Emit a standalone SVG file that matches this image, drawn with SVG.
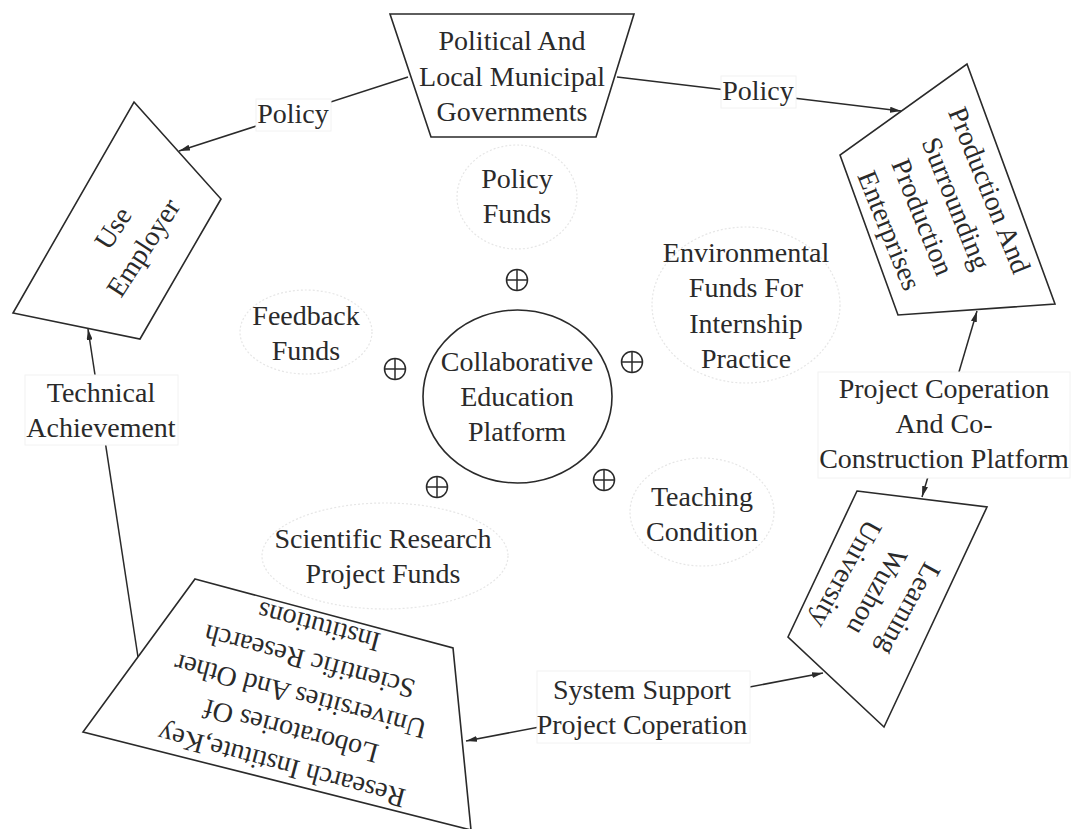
<svg xmlns="http://www.w3.org/2000/svg" width="1073" height="829" viewBox="0 0 1073 829">
<style>
text{font-family:"Liberation Serif","Times New Roman",serif;font-size:28px;fill:#2a2a2a;text-anchor:middle}
.box{fill:#fff;stroke:#2a2a2a;stroke-width:1.6}
.faint{fill:none;stroke:#e6e6e6;stroke-width:1.2;stroke-dasharray:2 2}
.conn{fill:none;stroke:#2a2a2a;stroke-width:1.5}
.lbl{fill:#fff;stroke:#f2f2f2;stroke-width:1}
.plus{fill:none;stroke:#2a2a2a;stroke-width:1.5}
</style>
<defs>
<marker id="arr" viewBox="0 0 11 6" refX="11" refY="3" markerWidth="11" markerHeight="6" markerUnits="userSpaceOnUse" orient="auto-start-reverse">
<path d="M0,0 L11,3 L0,6 Z" fill="#2a2a2a"/>
</marker>
<g id="oplus"><circle cx="0" cy="0" r="10.5"/><line x1="-10.5" y1="0" x2="10.5" y2="0"/><line x1="0" y1="-10.5" x2="0" y2="10.5"/></g>
</defs>
<rect width="1073" height="829" fill="#fff"/>

<g id="faint-rings">
<ellipse class="faint" cx="517" cy="197" rx="60" ry="52"/>
<ellipse class="faint" cx="746" cy="305" rx="94" ry="78"/>
<ellipse class="faint" cx="306" cy="332" rx="66" ry="42"/>
<ellipse class="faint" cx="702" cy="512" rx="72" ry="54"/>
<ellipse class="faint" cx="385" cy="556" rx="123" ry="53"/>
</g>

<g id="connectors">
<line class="conn" x1="408" y1="77" x2="179" y2="151" marker-end="url(#arr)"/>
<line class="conn" x1="617" y1="77" x2="901" y2="111" marker-end="url(#arr)"/>
<line class="conn" x1="138" y1="657" x2="88" y2="329" marker-end="url(#arr)"/>
<line class="conn" x1="922" y1="497" x2="977" y2="311" marker-start="url(#arr)" marker-end="url(#arr)"/>
<line class="conn" x1="466" y1="741" x2="823" y2="673" marker-start="url(#arr)" marker-end="url(#arr)"/>
</g>

<g id="node-government">
<polygon class="box" points="390,14 634,14 596,137 431,137"/>
<text x="512" y="50">Political And</text>
<text x="512" y="86">Local Municipal</text>
<text x="512" y="121">Governments</text>
</g>

<g id="node-employer">
<polygon class="box" points="134,102 221,199 140,339 13,313"/>
<g transform="translate(127.5,237.5) rotate(-57)">
<text x="0" y="-8">Use</text>
<text x="0" y="28">Employer</text>
</g>
</g>

<g id="node-enterprises">
<polygon class="box" points="967,64 1055,304 898,315 840,155"/>
<g transform="translate(940,210) rotate(68)">
<text x="0" y="-44">Production And</text>
<text x="0" y="-8">Surrounding</text>
<text x="0" y="28">Production</text>
<text x="0" y="64">Enterprises</text>
</g>
</g>

<g id="node-university">
<polygon class="box" points="857,491 987,507 884,727 788,637"/>
<g transform="translate(878,592) rotate(119)">
<text x="0" y="-26">Learning</text>
<text x="0" y="10">Wuzhou</text>
<text x="0" y="46">University</text>
</g>
</g>

<g id="node-research">
<polygon class="box" points="195,579 453,648 471,830 83,732"/>
<g transform="translate(300,697) rotate(195)">
<text x="0" y="-62">Research Institute,Key</text>
<text x="0" y="-26">Loboratories Of</text>
<text x="0" y="10">Universities And Other</text>
<text x="0" y="46">Scientific Research</text>
<text x="0" y="82">Institutions</text>
</g>
</g>

<g id="node-platform">
<ellipse class="box" cx="517.5" cy="396.5" rx="94.5" ry="86.5"/>
<text x="517" y="371">Collaborative</text>
<text x="517" y="406">Education</text>
<text x="517" y="441">Platform</text>
</g>

<g id="plus-signs" class="plus">
<use href="#oplus" x="517" y="280"/>
<use href="#oplus" x="395" y="369"/>
<use href="#oplus" x="632" y="362"/>
<use href="#oplus" x="437" y="487"/>
<use href="#oplus" x="604" y="480"/>
</g>

<g id="node-policy-funds">
<text x="517" y="188">Policy</text>
<text x="517" y="223">Funds</text>
</g>
<g id="node-env-funds">
<text x="746" y="262">Environmental</text>
<text x="746" y="297">Funds For</text>
<text x="746" y="333">Internship</text>
<text x="746" y="368">Practice</text>
</g>
<g id="node-feedback-funds">
<text x="306" y="325">Feedback</text>
<text x="306" y="360">Funds</text>
</g>
<g id="node-teaching">
<text x="702" y="506">Teaching</text>
<text x="702" y="541">Condition</text>
</g>
<g id="node-research-funds">
<text x="383" y="548">Scientific Research</text>
<text x="383" y="583">Project Funds</text>
</g>

<g id="connector-labels">
<rect class="lbl" x="256" y="99" width="75" height="32"/>
<text x="293" y="123">Policy</text>
<rect class="lbl" x="721" y="76" width="75" height="32"/>
<text x="758" y="100">Policy</text>
<rect class="lbl" x="25" y="375" width="153" height="70"/>
<text x="101" y="402">Technical</text>
<text x="101" y="437">Achievement</text>
<rect class="lbl" x="818" y="372" width="252" height="106"/>
<text x="944" y="398">Project Coperation</text>
<text x="944" y="433">And Co-</text>
<text x="944" y="468">Construction Platform</text>
<rect class="lbl" x="537" y="671" width="213" height="72"/>
<text x="642" y="699">System Support</text>
<text x="642" y="734">Project Coperation</text>
</g>
</svg>
